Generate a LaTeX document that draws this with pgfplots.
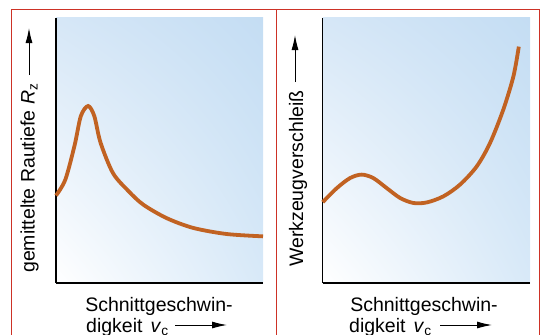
\documentclass[border=0pt]{standalone}
\usepackage{pgfplots}
\pgfplotsset{compat=1.18}
\usepackage{fontspec}
\setmainfont{Liberation Sans}
\usetikzlibrary{arrows.meta,shadings}
\definecolor{curve}{RGB}{193,98,34}
\definecolor{frame}{RGB}{205,50,38}
\definecolor{bgUR}{RGB}{196,221,243}
\definecolor{bgUL}{RGB}{214,231,247}
\definecolor{bgLR}{RGB}{216,233,248}
\pgfplotstableread{
x y
0    3.30
0.45 3.90
0.90 5.20
1.20 6.30
1.55 6.68
1.85 6.30
2.15 5.30
2.75 4.15
3.50 3.47
4.21 2.96
5.34 2.45
6.62 2.08
8.23 1.85
10   1.76
}\rautiefe
\pgfplotstableread{
x y
0    3.05
0.68 3.58
1.32 3.96
1.88 4.09
2.44 3.96
3.09 3.58
3.73 3.21
4.37 3.02
5.02 3.04
5.82 3.27
6.62 3.71
7.43 4.40
8.07 5.28
8.71 6.54
9.20 7.80
9.46 8.92
}\verschleiss
\begin{document}
\begin{tikzpicture}[x=1bp,y=1bp,font=\fontsize{19.5bp}{21bp}\selectfont]
\pgfplotsset{
  panel/.style={
    anchor=south west, width=207bp, height=265bp, scale only axis,
    xmin=0, xmax=10, ymin=0, ymax=10,
    axis x line=bottom, axis y line=left,
    axis line style={-, line width=1.5bp, black},
    ticks=none, clip=false,
    axis background/.style={shade, lower left=white, upper right=bgUR,
      upper left=bgUL, lower right=bgLR},
  }
}
% frames
\draw[frame, line width=1bp] (11,-20) -- (11,324) -- (539.5,324) -- (539.5,-20);
\draw[frame, line width=1bp] (276,324) -- (276,-20);
% left panel
\begin{axis}[panel, at={(56bp,51bp)}]
\addplot[curve, line width=3.8bp, smooth] table[x=x,y=y]{\rautiefe};
\end{axis}
% right panel
\begin{axis}[panel, at={(322.7bp,51bp)}, width=207.3bp]
\addplot[curve, line width=3.8bp, smooth] table[x=x,y=y]{\verschleiss};
\end{axis}
% y labels
\node[rotate=90, anchor=base west, inner sep=0pt] at (34.5,61) {gemittelte Rautiefe \textit{R}\textsubscript{z}};
\draw[line width=1bp, -{Latex[length=15bp,width=7bp]}] (29,259) -- (29,306);
\node[rotate=90, anchor=base west, inner sep=0pt] at (303,67) {Werkzeugverschleiß};
\draw[line width=1bp, -{Latex[length=15bp,width=7bp]}] (295,252) -- (295,299);
% x labels
\node[anchor=base, inner sep=0pt] at (159,23) {Schnittgeschwin-};
\node[anchor=base west, inner sep=0pt] at (86,2) {digkeit\hspace{8bp}\textit{v}\textsubscript{c}};
\draw[line width=1bp, -{Latex[length=15bp,width=7bp]}] (175,9) -- (227,9);
\node[anchor=base, inner sep=0pt] at (424,23) {Schnittgeschwin-};
\node[anchor=base west, inner sep=0pt] at (349,2) {digkeit\hspace{8bp}\textit{v}\textsubscript{c}};
\draw[line width=1bp, -{Latex[length=15bp,width=7bp]}] (440,9) -- (492,9);
\pgfresetboundingbox
\path[use as bounding box] (0,0) rectangle (541,334);
\end{tikzpicture}
\end{document}
